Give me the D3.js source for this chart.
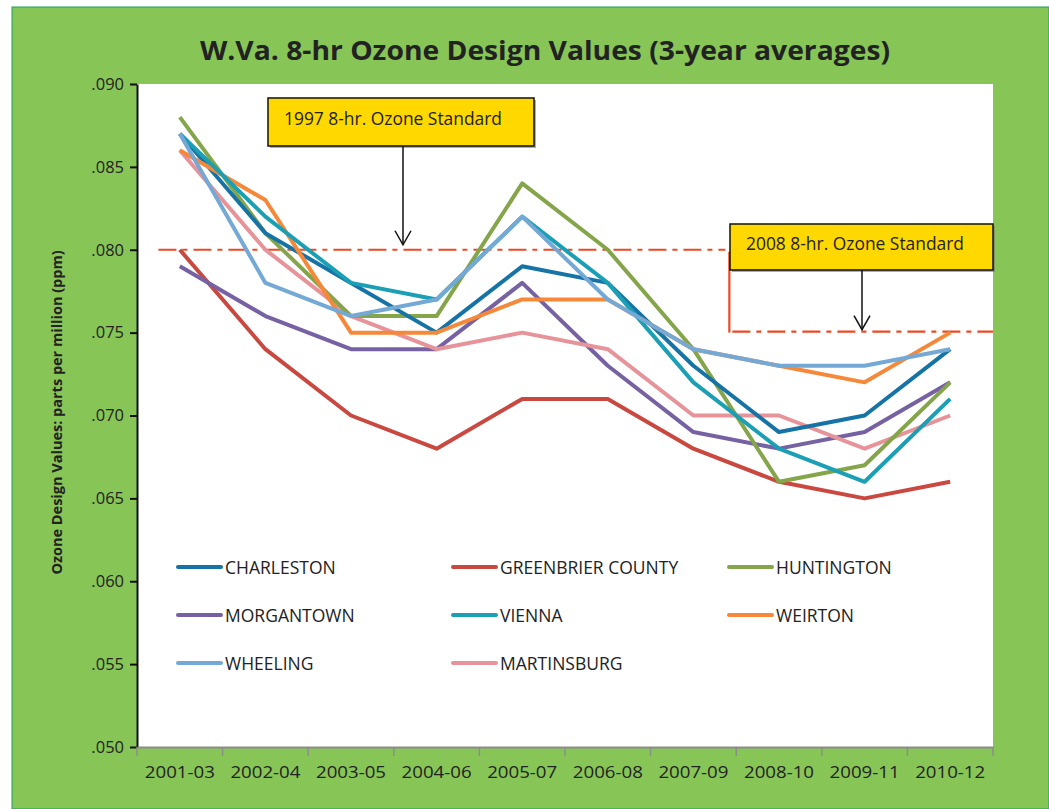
<!DOCTYPE html>
<html>
<head>
<meta charset="utf-8">
<script src="https://cdn.jsdelivr.net/npm/d3@7"></script>
<style>
  body { margin: 0; background: #fff; }
  svg { display: block; font-family: "Open Sans", "Noto Sans", sans-serif; }
</style>
</head>
<body>
<svg width="1049" height="809"></svg>
<script>
// Data
const periods = ["2001-03", "2002-04", "2003-05", "2004-06", "2005-07", "2006-08", "2007-09", "2008-10", "2009-11", "2010-12"];
const yTicks = [0.050, 0.055, 0.060, 0.065, 0.070, 0.075, 0.080, 0.085, 0.090];

const charleston  = [0.087, 0.081, 0.078, 0.075, 0.079, 0.078, 0.073, 0.069, 0.070, 0.074];
const greenbrier  = [0.080, 0.074, 0.070, 0.068, 0.071, 0.071, 0.068, 0.066, 0.065, 0.066];
const huntington  = [0.088, 0.081, 0.076, 0.076, 0.084, 0.080, 0.074, 0.066, 0.067, 0.072];
const morgantown  = [0.079, 0.076, 0.074, 0.074, 0.078, 0.073, 0.069, 0.068, 0.069, 0.072];
const vienna      = [0.087, 0.082, 0.078, 0.077, 0.082, 0.078, 0.072, 0.068, 0.066, 0.071];
const weirton     = [0.086, 0.083, 0.075, 0.075, 0.077, 0.077, 0.074, 0.073, 0.072, 0.075];
const wheeling    = [0.087, 0.078, 0.076, 0.077, 0.082, 0.077, 0.074, 0.073, 0.073, 0.074];
const martinsburg = [0.086, 0.080, 0.076, 0.074, 0.075, 0.074, 0.070, 0.070, 0.068, 0.070];

const std1997 = 0.080;
const std2008 = 0.075;

const series = [
  { name: "CHARLESTON", values: charleston, color: "#1673a6" },
  { name: "GREENBRIER COUNTY", values: greenbrier, color: "#c9483f" },
  { name: "HUNTINGTON", values: huntington, color: "#84a54a" },
  { name: "MORGANTOWN", values: morgantown, color: "#7661a3" },
  { name: "VIENNA", values: vienna, color: "#1a9fb5" },
  { name: "WEIRTON", values: weirton, color: "#f6883a" },
  { name: "WHEELING", values: wheeling, color: "#74a9d6" },
  { name: "MARTINSBURG", values: martinsburg, color: "#e6939a" }
];

// Draw order (back to front) as in the picture
const drawOrder = ["GREENBRIER COUNTY", "MORGANTOWN", "MARTINSBURG", "HUNTINGTON", "CHARLESTON", "WEIRTON", "VIENNA", "WHEELING"];

const svg = d3.select("svg");

// Green background
svg.append("rect")
  .attr("x", 12).attr("y", 7).attr("width", 1037).attr("height", 802)
  .attr("fill", "#88c557").attr("stroke", "#1fa05a").attr("stroke-width", 1);

const plot = { left: 137, right: 993, top: 84, bottom: 747 };

// Plot area
svg.append("rect")
  .attr("x", plot.left).attr("y", plot.top)
  .attr("width", plot.right - plot.left).attr("height", plot.bottom - plot.top)
  .attr("fill", "#fff");

const x = d3.scaleBand().domain(periods).range([plot.left, plot.right]);
const y = d3.scaleLinear().domain([0.050, 0.090]).range([plot.bottom, plot.top]);
const cx = d => x(d) + x.bandwidth() / 2;

// Title
svg.append("text")
  .attr("x", 545).attr("y", 60)
  .attr("text-anchor", "middle")
  .attr("font-size", 27).attr("font-weight", "bold").attr("fill", "#222")
  .attr("textLength", 690).attr("lengthAdjust", "spacingAndGlyphs")
  .text("W.Va. 8-hr Ozone Design Values (3-year averages)");

// Y axis
const yAxis = svg.append("g")
  .attr("transform", `translate(${plot.left},0)`)
  .call(d3.axisLeft(y).tickValues(yTicks).tickSize(7).tickSizeOuter(0)
    .tickFormat(d => d3.format(".3f")(d).replace(/^0/, "")));
yAxis.select(".domain").attr("stroke", "#111").attr("stroke-width", 2);
yAxis.selectAll(".tick line").attr("stroke", "#111").attr("stroke-width", 2);
yAxis.selectAll(".tick text")
  .attr("x", -13).attr("font-size", 16.5).attr("fill", "#222")
  .attr("font-family", "Open Sans, sans-serif");

// Y axis title
svg.append("text")
  .attr("transform", `translate(62,${(plot.top + plot.bottom) / 2 - 3}) rotate(-90)`)
  .attr("text-anchor", "middle")
  .attr("font-size", 14.5).attr("font-weight", "bold").attr("fill", "#222")
  .text("Ozone Design Values: parts per million (ppm)");

// X axis
const xAxis = svg.append("g")
  .attr("transform", `translate(0,${plot.bottom})`)
  .call(d3.axisBottom(x).tickSize(0).tickSizeOuter(0));
xAxis.select(".domain").attr("stroke", "#8c8c8c").attr("stroke-width", 2);
xAxis.selectAll(".tick text")
  .attr("y", 20).attr("font-size", 16).attr("fill", "#222")
  .attr("font-family", "Open Sans, sans-serif")
  .attr("textLength", 70).attr("lengthAdjust", "spacingAndGlyphs");
// separator ticks between categories
xAxis.selectAll(".sep")
  .data(d3.range(periods.length + 1))
  .enter().append("line")
  .attr("x1", i => plot.left + i * x.bandwidth())
  .attr("x2", i => plot.left + i * x.bandwidth())
  .attr("y1", 0).attr("y2", 9)
  .attr("stroke", "#8c8c8c").attr("stroke-width", 1.5);

// Standard lines (dash-dot)
const dashDot = "18,6,5,6";
const stepX = cx(periods[6]) + x.bandwidth() * 0.42;
svg.append("line")
  .attr("x1", cx(periods[0]) - x.bandwidth() / 4).attr("x2", stepX - 4)
  .attr("y1", y(std1997)).attr("y2", y(std1997))
  .attr("stroke", "#ec4a24").attr("stroke-width", 2.2).attr("stroke-dasharray", dashDot);
svg.append("line")
  .attr("x1", stepX).attr("x2", stepX)
  .attr("y1", y(std1997) + 2).attr("y2", y(std2008))
  .attr("stroke", "#ec4a24").attr("stroke-width", 2.2);
svg.append("line")
  .attr("x1", stepX + 3).attr("x2", plot.right)
  .attr("y1", y(std2008) - 1).attr("y2", y(std2008) - 1)
  .attr("stroke", "#ec4a24").attr("stroke-width", 2.2).attr("stroke-dasharray", dashDot);

// Series lines
const line = d3.line()
  .x((d, i) => cx(periods[i]))
  .y(d => y(d));

svg.append("g")
  .selectAll("path")
  .data(drawOrder.map(n => series.find(s => s.name === n)))
  .enter().append("path")
  .attr("d", d => line(d.values))
  .attr("fill", "none")
  .attr("stroke", d => d.color)
  .attr("stroke-width", 4)
  .attr("stroke-linejoin", "round");

// Annotation boxes
function callout(bx, by, bw, bh, label, arrowX, arrowY) {
  const g = svg.append("g");
  g.append("rect")
    .attr("x", bx + 2).attr("y", by + 2).attr("width", bw).attr("height", bh)
    .attr("fill", "#777").attr("opacity", 0.6);
  g.append("rect")
    .attr("x", bx).attr("y", by).attr("width", bw).attr("height", bh)
    .attr("fill", "#ffd800").attr("stroke", "#111").attr("stroke-width", 1.5);
  g.append("text")
    .attr("x", bx + 16).attr("y", by + bh / 2 + 3)
    .attr("font-size", 17.5).attr("fill", "#222")
    .attr("textLength", 218).attr("lengthAdjust", "spacingAndGlyphs")
    .text(label);
  g.append("line")
    .attr("x1", arrowX).attr("x2", arrowX)
    .attr("y1", by + bh).attr("y2", arrowY)
    .attr("stroke", "#111").attr("stroke-width", 1.5);
  g.append("path")
    .attr("d", `M${arrowX - 8},${arrowY - 14} L${arrowX},${arrowY} L${arrowX + 8},${arrowY - 14}`)
    .attr("fill", "none").attr("stroke", "#111").attr("stroke-width", 1.5);
}
callout(268, 98, 266, 48, "1997 8-hr. Ozone Standard", 403, y(std1997) - 5);
callout(730, 224, 263, 46, "2008 8-hr. Ozone Standard", 862, y(std2008) - 3);

// Legend
const legendCols = [178, 453, 729];
const legendRows = [567, 615, 663];
const legend = svg.append("g")
  .selectAll("g")
  .data(series)
  .enter().append("g")
  .attr("transform", (d, i) => `translate(${legendCols[i % 3]},${legendRows[Math.floor(i / 3)]})`);
legend.append("line")
  .attr("x1", 0).attr("x2", 43)
  .attr("stroke", d => d.color).attr("stroke-width", 4).attr("stroke-linecap", "round");
legend.append("text")
  .attr("x", 47).attr("y", 6.5)
  .attr("font-size", 17.5).attr("fill", "#222")
  .text(d => d.name);
</script>
</body>
</html>
